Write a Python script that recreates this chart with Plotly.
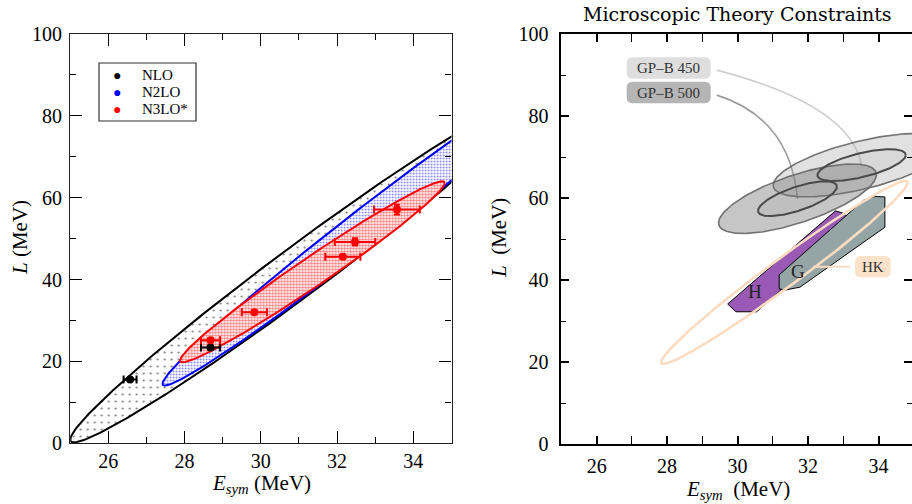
import numpy as np
import plotly.graph_objects as go

W, H = 912, 504

# ---------------- data: left panel ----------------
ell_names = ["NLO", "N2LO", "N3LO*"]
ell_colors = ["black", "blue", "red"]
ell_cx = [31.0, 32.5, 31.35]
ell_cy = [42.0, 51.1, 41.9]
ell_hx = [6.0, 5.08, 3.47]
ell_k = [6.85, 7.2, 6.25]
ell_h0 = [7.5, 5.6, 4.3]

nlo_x = [26.57, 28.68]
nlo_y = [15.6, 23.4]
nlo_xerr = [0.17, 0.25]
nlo_yerr = [0.4, 0.5]

n3lo_x = [28.68, 29.83, 32.15, 32.47, 33.57]
n3lo_y = [25.2, 32.0, 45.6, 49.2, 57.1]
n3lo_xerr = [0.25, 0.33, 0.46, 0.53, 0.6]
n3lo_yerr = [0.5, 0.4, 0.5, 0.9, 1.2]

x_ticks = [26, 28, 30, 32, 34]
y_ticks = [0, 20, 40, 60, 80, 100]

# ---------------- data: right panel ----------------
gp_names = ["GP–B 450", "GP–B 500"]
gp_cx = [33.52, 31.7]
gp_cy = [68.05, 59.85]
gp_hx = [1.255, 1.12]
gp_k = [1.95, 2.62]
gp_h0 = [3.0, 3.05]

hk_cx, hk_cy, hk_hx, hk_k, hk_h0 = 31.33, 41.9, 3.5, 6.25, 4.3

H_x = [29.72, 29.95, 30.54, 31.18, 33.15, 33.0, 32.78]
H_y = [34.2, 32.3, 32.3, 37.2, 55.2, 56.3, 56.9]
G_x = [31.18, 31.18, 31.35, 31.77, 34.18, 34.18, 33.9, 33.58]
G_y = [41.3, 37.9, 37.6, 38.3, 52.9, 60.3, 60.4, 59.5]


def ellipse(cx, cy, hx, k, h0, n=300):
    t = np.linspace(0, 2 * np.pi, n)
    return cx + hx * np.cos(t), cy + k * hx * np.cos(t) + h0 * np.sin(t)


fig = go.Figure()

# ---- left ellipses ----
patterns = [
    dict(shape=".", fgcolor="black", bgcolor="white", size=7, solidity=0.08),
    dict(shape=".", fgcolor="blue", bgcolor="white", size=3, solidity=0.3),
    dict(shape=".", fgcolor="red", bgcolor="white", size=3, solidity=0.5),
]
for i in range(3):
    ex, ey = ellipse(ell_cx[i], ell_cy[i], ell_hx[i], ell_k[i], ell_h0[i])
    fig.add_trace(go.Scatter(x=ex, y=ey, mode="lines", fill="toself",
                             fillpattern=patterns[i],
                             line=dict(color=ell_colors[i], width=2),
                             showlegend=False, hoverinfo="skip",
                             xaxis="x", yaxis="y"))

fig.add_trace(go.Scatter(x=nlo_x, y=nlo_y, mode="markers",
                         marker=dict(color="black", size=8),
                         error_x=dict(type="data", array=nlo_xerr, color="black", thickness=2, width=4),
                         error_y=dict(type="data", array=nlo_yerr, color="black", thickness=2, width=3),
                         showlegend=False, xaxis="x", yaxis="y"))
fig.add_trace(go.Scatter(x=n3lo_x, y=n3lo_y, mode="markers",
                         marker=dict(color="red", size=8),
                         error_x=dict(type="data", array=n3lo_xerr, color="red", thickness=2, width=4),
                         error_y=dict(type="data", array=n3lo_yerr, color="red", thickness=2, width=3),
                         showlegend=False, xaxis="x", yaxis="y"))

# ---- right panel ----
fig.add_trace(go.Scatter(x=H_x + [H_x[0]], y=H_y + [H_y[0]], mode="lines", fill="toself",
                         fillcolor="#9b59b6", line=dict(color="black", width=1),
                         showlegend=False, hoverinfo="skip", xaxis="x2", yaxis="y2"))
fig.add_trace(go.Scatter(x=G_x + [G_x[0]], y=G_y + [G_y[0]], mode="lines", fill="toself",
                         fillcolor="#95a5a6", line=dict(color="black", width=1),
                         showlegend=False, hoverinfo="skip", xaxis="x2", yaxis="y2"))

gp_fill = ["rgba(165,165,165,0.33)", "rgba(120,120,120,0.42)"]
for i in range(2):
    ex, ey = ellipse(gp_cx[i], gp_cy[i], 2 * gp_hx[i], gp_k[i], 2 * gp_h0[i])
    fig.add_trace(go.Scatter(x=ex, y=ey, mode="lines", fill="toself", fillcolor=gp_fill[i],
                             line=dict(color="rgba(95,95,95,0.85)", width=1.6),
                             showlegend=False, hoverinfo="skip", xaxis="x2", yaxis="y2"))
for i in range(2):
    ex, ey = ellipse(gp_cx[i], gp_cy[i], gp_hx[i], gp_k[i], gp_h0[i])
    fig.add_trace(go.Scatter(x=ex, y=ey, mode="lines", fill="toself", fillcolor="rgba(110,110,110,0.08)",
                             line=dict(color="#4a4a4a", width=2),
                             showlegend=False, hoverinfo="skip", xaxis="x2", yaxis="y2"))

ex, ey = ellipse(hk_cx, hk_cy, hk_hx, hk_k, hk_h0)
fig.add_trace(go.Scatter(x=ex, y=ey, mode="lines", line=dict(color="#fcdcc1", width=2.6),
                         showlegend=False, hoverinfo="skip", xaxis="x2", yaxis="y2"))

# ---- axes ----
FONT = "Liberation Serif"
FONT2 = "DejaVu Serif"
common = dict(showgrid=False, zeroline=False, ticks="inside", tickcolor="black", automargin=False,
              tickfont=dict(family=FONT, size=20, color="black"))

fig.update_layout(
    width=W, height=H, margin=dict(l=0, r=0, t=0, b=0, autoexpand=False),
    paper_bgcolor="white", plot_bgcolor="white",
    showlegend=False,
    xaxis=dict(domain=[70.2 / W, 451.5 / W], range=[25, 35], tickvals=x_ticks,
               showline=True, linecolor="#222", linewidth=1.3, mirror="allticks",
               ticklen=12, tickwidth=1.2, ticklabelstandoff=0,
               minor=dict(dtick=1, tick0=25, ticks="inside", ticklen=6, tickwidth=1.2, tickcolor="black"),
               anchor="y", **common),
    yaxis=dict(domain=[1 - 443.3 / H, 1 - 34 / H], range=[0, 100], tickvals=y_ticks,
               showline=True, linecolor="#222", linewidth=1.3, mirror="allticks",
               ticklen=12, tickwidth=1.2, ticklabelstandoff=3,
               minor=dict(dtick=10, tick0=0, ticks="inside", ticklen=6, tickwidth=1.2, tickcolor="black"),
               anchor="x", **common),
    xaxis2=dict(domain=[561.4 / W, 1.0], range=[25, 34.95], tickvals=x_ticks,
                showline=True, linecolor="black", linewidth=2, mirror="allticks",
                ticklen=8, tickwidth=1.5, ticklabelstandoff=3,
                minor=dict(dtick=1, tick0=25, ticks="inside", ticklen=5, tickwidth=1.3, tickcolor="black"),
                anchor="y2", **common),
    yaxis2=dict(domain=[1 - 444.3 / H, 1 - 34 / H], range=[0, 100], tickvals=y_ticks,
                showline=True, linecolor="black", linewidth=2, mirror=False,
                ticklen=8, tickwidth=1.5, ticklabelstandoff=7,
                minor=dict(dtick=10, tick0=0, ticks="inside", ticklen=5, tickwidth=1.3, tickcolor="black"),
                anchor="x2", **common),
    yaxis3=dict(range=[0, 100], overlaying="y2", side="right", anchor="x2", tickvals=y_ticks,
                showline=False, showticklabels=False, showgrid=False, zeroline=False, automargin=False,
                ticks="inside", ticklen=8, tickwidth=1.5, tickcolor="black",
                minor=dict(dtick=10, tick0=0, ticks="inside", ticklen=5, tickwidth=1.3, tickcolor="black")),
)
# dummy trace to activate yaxis3
fig.add_trace(go.Scatter(x=[None], y=[None], xaxis="x2", yaxis="y3", showlegend=False))

# ---- annotations ----
def px_to_paper(px, py):
    return px / W, 1 - py / H

ann = []
def add_text(text, px, py, size, angle=0, color="black", xanchor="center", family=FONT):
    x, y = px_to_paper(px, py)
    ann.append(dict(text=text, x=x, y=y, xref="paper", yref="paper", showarrow=False,
                    font=dict(family=family, size=size, color=color), textangle=angle,
                    xanchor=xanchor, yanchor="middle"))

add_text("<i>E</i><sub><i>sym</i></sub> (MeV)", 261, 484, 21)
add_text("<i>L</i> (MeV)", 20, 238, 21, angle=-90)
add_text("<i>E</i><sub><i>sym</i></sub>  (MeV)", 737.5, 490, 21)
add_text("<i>L</i>  (MeV)", 499, 238, 21, angle=-90)
add_text("Microscopic Theory Constraints", 737.5, 14, 19, family=FONT2)
add_text("GP–B 450", 668.7, 68, 15, color="#333")
add_text("GP–B 500", 668.7, 92.5, 15, color="#333")
add_text("HK", 872.9, 266.7, 15, color="#333")
# legend (manual)
for nm, col, py in zip(ell_names, ell_colors, [75, 92, 109]):
    add_text("●", 117, py, 14, color=col)
    add_text(nm, 140, py, 15, xanchor="left")
# polygon labels in data coords
ann.append(dict(text="H", x=30.49, y=37.2, xref="x2", yref="y2", showarrow=False,
                font=dict(family=FONT, size=19, color="#222")))
ann.append(dict(text="G", x=31.72, y=42.1, xref="x2", yref="y2", showarrow=False,
                font=dict(family=FONT, size=19, color="#222")))
fig.update_layout(annotations=ann)

# ---- shapes: rounded label boxes and connectors ----
def rounded_box(x0, y0, x1, y1, r=6):
    def P(px, py):
        return f"{px / W:.5f},{1 - py / H:.5f}"
    return ("M " + P(x0 + r, y0) + " L " + P(x1 - r, y0) + " Q " + P(x1, y0) + " " + P(x1, y0 + r) +
            " L " + P(x1, y1 - r) + " Q " + P(x1, y1) + " " + P(x1 - r, y1) +
            " L " + P(x0 + r, y1) + " Q " + P(x0, y1) + " " + P(x0, y1 - r) +
            " L " + P(x0, y0 + r) + " Q " + P(x0, y0) + " " + P(x0 + r, y0) + " Z")

shapes = [
    dict(type="path", xref="x2", yref="y2", layer="below",
         path=f"M 29.41,91.2 Q 33.19,82.7 {gp_cx[0]},{gp_cy[0]}",
         line=dict(color="#cfcfcf", width=1.6)),
    dict(type="path", xref="x2", yref="y2", layer="below",
         path=f"M 29.41,85.1 Q 31.49,79.5 {gp_cx[1]},{gp_cy[1]}",
         line=dict(color="#9a9a9a", width=1.6)),
    dict(type="line", xref="x2", yref="y2", x0=33.19, y0=43.3, x1=32.14, y1=43.3,
         line=dict(color="#fcdcc1", width=2)),
    dict(type="path", xref="paper", yref="paper", path=rounded_box(626.7, 57.3, 710.7, 78.7),
         fillcolor="#dedede", line=dict(width=0)),
    dict(type="path", xref="paper", yref="paper", path=rounded_box(626.7, 81.7, 710.7, 103.3),
         fillcolor="#b5b5b5", line=dict(width=0)),
    dict(type="path", xref="paper", yref="paper", path=rounded_box(855, 256, 890.7, 277.3),
         fillcolor="#fde2ca", line=dict(width=0)),
    dict(type="rect", xref="paper", yref="paper", x0=99 / W, x1=196 / W, y0=1 - 121 / H, y1=1 - 63 / H,
         fillcolor="white", line=dict(color="#333", width=1.2), layer="above"),
]
fig.update_layout(shapes=shapes)

fig.write_html("out.html", config={"displayModeBar": False},
               post_script="document.body.style.margin='0px';document.body.style.overflow='hidden';")
